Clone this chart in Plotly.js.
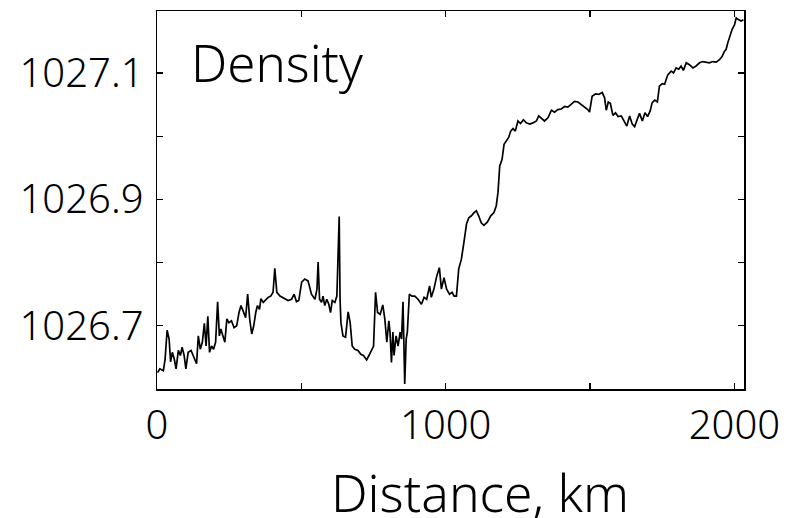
<!DOCTYPE html>
<html>
<head>
<meta charset="utf-8">
<script src="https://cdn.plot.ly/plotly-3.0.1.min.js"></script>
<style>html,body{margin:0;padding:0;background:#fff;}#chart{width:797px;height:518px;}</style>
</head>
<body>
<div id="chart"></div>
<script>
// Distance along track (km)
const distanceKm = [2,10,22,28,35,42,47,53,60,66,74,81,87,94,100,108,118,126,137,143,150,157,164,170,176,182,189,196,203,210,216,221,228,235,242,249,258,267,276,284,291,299,307,314,321,328,335,342,348,355,360,368,377,385,394,402,408,415,426,443,454,466,475,483,491,501,512,523,535,547,554,558,563,570,575,581,588,595,601,607,616,623,625,631,634,637,644,653,662,669,676,685,696,706,715,726,734,743,750,757,764,773,782,789,796,803,807,812,817,821,828,835,842,847,852,858,863,867,874,883,893,904,916,925,934,944,950,959,969,978,985,994,1003,1013,1022,1029,1037,1045,1054,1063,1072,1080,1089,1098,1106,1114,1123,1132,1144,1156,1167,1175,1181,1187,1195,1202,1210,1218,1225,1233,1241,1250,1259,1269,1279,1291,1302,1314,1322,1331,1342,1354,1366,1377,1388,1400,1412,1423,1435,1446,1458,1469,1481,1492,1498,1507,1519,1530,1542,1550,1556,1563,1570,1579,1588,1597,1608,1618,1627,1637,1646,1654,1662,1671,1681,1690,1699,1708,1715,1724,1733,1740,1750,1758,1769,1781,1789,1798,1807,1815,1823,1833,1844,1856,1867,1879,1890,1902,1913,1925,1937,1948,1957,1965,1971,1977,1983,1992,2000,2006,2015,2023,2031];
// Density (kg/m^3)
const density = [1026.626,1026.632,1026.629,1026.647,1026.693,1026.679,1026.643,1026.658,1026.647,1026.632,1026.661,1026.653,1026.666,1026.653,1026.632,1026.658,1026.661,1026.653,1026.640,1026.684,1026.663,1026.674,1026.704,1026.668,1026.715,1026.658,1026.668,1026.663,1026.674,1026.738,1026.684,1026.695,1026.684,1026.674,1026.711,1026.705,1026.708,1026.697,1026.700,1026.721,1026.732,1026.721,1026.713,1026.750,1026.711,1026.687,1026.700,1026.721,1026.732,1026.726,1026.743,1026.737,1026.742,1026.745,1026.747,1026.753,1026.791,1026.753,1026.747,1026.742,1026.740,1026.742,1026.750,1026.738,1026.740,1026.769,1026.774,1026.771,1026.750,1026.742,1026.758,1026.801,1026.742,1026.737,1026.747,1026.732,1026.742,1026.734,1026.721,1026.740,1026.737,1026.747,1026.771,1026.873,1026.742,1026.705,1026.684,1026.682,1026.722,1026.705,1026.668,1026.663,1026.661,1026.655,1026.653,1026.646,1026.653,1026.661,1026.668,1026.753,1026.721,1026.718,1026.733,1026.711,1026.674,1026.708,1026.690,1026.642,1026.690,1026.653,1026.684,1026.668,1026.690,1026.679,1026.738,1026.608,1026.679,1026.690,1026.750,1026.747,1026.747,1026.742,1026.734,1026.745,1026.742,1026.763,1026.745,1026.758,1026.779,1026.792,1026.758,1026.776,1026.758,1026.750,1026.753,1026.747,1026.747,1026.790,1026.805,1026.832,1026.861,1026.871,1026.874,1026.879,1026.882,1026.874,1026.863,1026.859,1026.864,1026.874,1026.879,1026.890,1026.911,1026.953,1026.963,1026.987,1026.992,1026.998,1027.008,1027.012,1027.008,1027.024,1027.020,1027.026,1027.021,1027.019,1027.021,1027.024,1027.032,1027.028,1027.024,1027.029,1027.041,1027.038,1027.042,1027.043,1027.047,1027.046,1027.050,1027.055,1027.054,1027.050,1027.047,1027.042,1027.038,1027.063,1027.067,1027.066,1027.069,1027.061,1027.041,1027.054,1027.052,1027.033,1027.037,1027.031,1027.032,1027.024,1027.016,1027.032,1027.019,1027.015,1027.024,1027.036,1027.024,1027.037,1027.031,1027.040,1027.053,1027.057,1027.054,1027.079,1027.083,1027.082,1027.097,1027.103,1027.100,1027.108,1027.106,1027.111,1027.104,1027.116,1027.113,1027.108,1027.111,1027.116,1027.118,1027.117,1027.116,1027.118,1027.117,1027.121,1027.126,1027.134,1027.137,1027.148,1027.158,1027.169,1027.176,1027.187,1027.184,1027.182,1027.184];

const FONT = '"Noto Sans", sans-serif';

const trace = {
  x: distanceKm, y: density, type: 'scatter', mode: 'lines',
  line: {color: '#000000', width: 1.7}, hoverinfo: 'skip'
};

const axisCommon = {
  showline: true, linecolor: '#000', linewidth: 1.5, mirror: 'ticks',
  ticks: 'inside', ticklen: 6, tickwidth: 1.3, tickcolor: '#000',
  showgrid: false, zeroline: false,
  tickfont: {family: FONT, size: 40, color: '#000', weight: 300}
};

const layout = {
  width: 797, height: 518,
  margin: {l: 157, r: 52.5, t: 11, b: 128.5},
  paper_bgcolor: '#fff', plot_bgcolor: '#fff',
  showlegend: false,
  xaxis: Object.assign({}, axisCommon, {
    range: [0, 2033], tick0: 0, dtick: 1000, tickmode: 'linear', tickformat: 'd',
    minor: {dtick: 500, ticks: 'inside', ticklen: 6, tickwidth: 1.3, tickcolor: '#000', showgrid: false},
    ticklabelstandoff: 0
  }),
  yaxis: Object.assign({}, axisCommon, {
    range: [1026.6, 1027.198], tick0: 1026.7, dtick: 0.2, tickmode: 'linear', tickformat: '.1f',
    minor: {dtick: 0.1, tick0: 1026.7, ticks: 'inside', ticklen: 6, tickwidth: 1.3, tickcolor: '#000', showgrid: false},
    ticklabelstandoff: 4
  }),
  annotations: [
    {text: 'Density', xref: 'paper', yref: 'paper', x: 0.0545, y: 0.864,
     xanchor: 'left', yanchor: 'middle', showarrow: false,
     font: {family: FONT, size: 51, color: '#000', weight: 300}},
    {text: 'Distance, km', xref: 'paper', yref: 'paper', x: 0.55, y: -0.272,
     xanchor: 'center', yanchor: 'middle', showarrow: false,
     font: {family: FONT, size: 51.5, color: '#000', weight: 300}}
  ]
};

Plotly.newPlot('chart', [trace], layout, {displayModeBar: false, staticPlot: true});
</script>
</body>
</html>
